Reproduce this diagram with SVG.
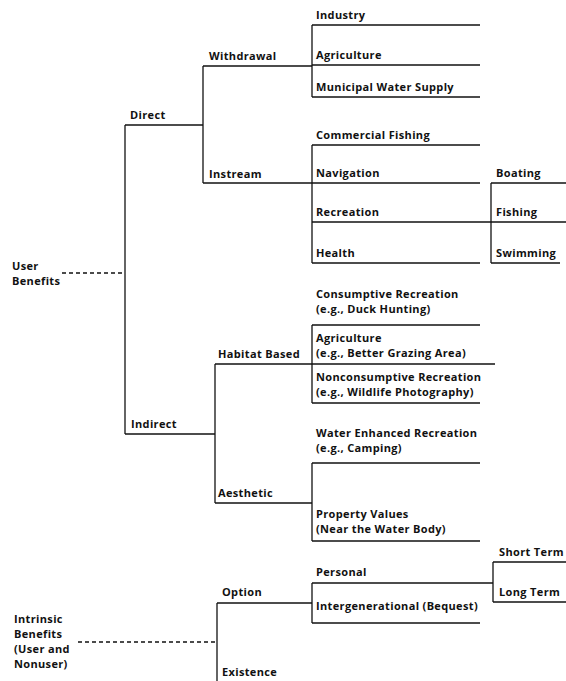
<svg xmlns="http://www.w3.org/2000/svg" width="566" height="681" viewBox="0 0 566 681">
<style>
text{font-family:"Open Sans","Liberation Sans",Arial,sans-serif;font-weight:bold;font-size:11px;letter-spacing:0.35px;fill:#111}
.c line{stroke:#111;stroke-width:1.3;fill:none}
.c line.d{stroke-dasharray:4 3}
</style>
<rect width="566" height="681" fill="#fff"/>
<g class="c" id="connectors">
<line class="d" x1="62" y1="273" x2="125" y2="273"/>
<line class="d" x1="78" y1="642" x2="217" y2="642"/>
<line x1="125" y1="125" x2="125" y2="434"/>
<line x1="125" y1="125" x2="203" y2="125"/>
<line x1="125" y1="434" x2="215" y2="434"/>
<line x1="203" y1="66" x2="203" y2="183"/>
<line x1="203" y1="66" x2="312" y2="66"/>
<line x1="203" y1="183" x2="312" y2="183"/>
<line x1="312" y1="25" x2="312" y2="97"/>
<line x1="312" y1="25" x2="480" y2="25"/>
<line x1="312" y1="65" x2="480" y2="65"/>
<line x1="312" y1="97" x2="480" y2="97"/>
<line x1="312" y1="145" x2="312" y2="263"/>
<line x1="312" y1="145" x2="480" y2="145"/>
<line x1="312" y1="183" x2="480" y2="183"/>
<line x1="312" y1="222" x2="491" y2="222"/>
<line x1="312" y1="263" x2="480" y2="263"/>
<line x1="491" y1="183" x2="491" y2="263"/>
<line x1="491" y1="183" x2="566" y2="183"/>
<line x1="491" y1="222" x2="566" y2="222"/>
<line x1="491" y1="263" x2="560" y2="263"/>
<line x1="215" y1="364" x2="215" y2="503"/>
<line x1="215" y1="364" x2="312" y2="364"/>
<line x1="215" y1="503" x2="312" y2="503"/>
<line x1="312" y1="325" x2="312" y2="403"/>
<line x1="312" y1="325" x2="480" y2="325"/>
<line x1="312" y1="364" x2="495" y2="364"/>
<line x1="312" y1="403" x2="480" y2="403"/>
<line x1="312" y1="463" x2="312" y2="541"/>
<line x1="312" y1="463" x2="480" y2="463"/>
<line x1="312" y1="541" x2="480" y2="541"/>
<line x1="217" y1="603" x2="217" y2="681"/>
<line x1="217" y1="603" x2="312" y2="603"/>
<line x1="312" y1="583" x2="312" y2="623"/>
<line x1="312" y1="583" x2="493" y2="583"/>
<line x1="312" y1="623" x2="480" y2="623"/>
<line x1="493" y1="562" x2="493" y2="602"/>
<line x1="493" y1="562" x2="566" y2="562"/>
<line x1="493" y1="602" x2="566" y2="602"/>
</g>
<g id="user-benefits"><text x="12" y="270">User</text><text x="12" y="285">Benefits</text></g>
<g id="intrinsic-benefits"><text x="14" y="623">Intrinsic</text><text x="14" y="638">Benefits</text><text x="14" y="653">(User and</text><text x="14" y="668">Nonuser)</text></g>
<g id="direct"><text x="130" y="119">Direct</text></g>
<g id="indirect"><text x="131" y="428">Indirect</text></g>
<g id="withdrawal"><text x="209" y="60">Withdrawal</text></g>
<g id="instream"><text x="209" y="178">Instream</text></g>
<g id="industry"><text x="316" y="19">Industry</text></g>
<g id="agriculture"><text x="316" y="59">Agriculture</text></g>
<g id="municipal"><text x="316" y="91">Municipal Water Supply</text></g>
<g id="commercial-fishing"><text x="316" y="139">Commercial Fishing</text></g>
<g id="navigation"><text x="316" y="177">Navigation</text></g>
<g id="recreation"><text x="316" y="216">Recreation</text></g>
<g id="health"><text x="316" y="257">Health</text></g>
<g id="boating"><text x="496" y="177">Boating</text></g>
<g id="fishing"><text x="496" y="216">Fishing</text></g>
<g id="swimming"><text x="496" y="257">Swimming</text></g>
<g id="habitat-based"><text x="218" y="358">Habitat Based</text></g>
<g id="aesthetic"><text x="218" y="497">Aesthetic</text></g>
<g id="consumptive"><text x="316" y="298">Consumptive Recreation</text><text x="316" y="313">(e.g., Duck Hunting)</text></g>
<g id="agriculture-grazing"><text x="316" y="342">Agriculture</text><text x="316" y="357">(e.g., Better Grazing  Area)</text></g>
<g id="nonconsumptive"><text x="316" y="381">Nonconsumptive Recreation</text><text x="316" y="396">(e.g., Wildlife Photography)</text></g>
<g id="water-enhanced"><text x="316" y="437">Water Enhanced Recreation</text><text x="316" y="452">(e.g., Camping)</text></g>
<g id="property-values"><text x="316" y="518">Property Values</text><text x="316" y="533">(Near the Water Body)</text></g>
<g id="option"><text x="222" y="596">Option</text></g>
<g id="existence"><text x="222" y="676">Existence</text></g>
<g id="personal"><text x="316" y="576">Personal</text></g>
<g id="intergenerational"><text x="316" y="610">Intergenerational (Bequest)</text></g>
<g id="short-term"><text x="499" y="556">Short Term</text></g>
<g id="long-term"><text x="499" y="596">Long Term</text></g>
</svg>
